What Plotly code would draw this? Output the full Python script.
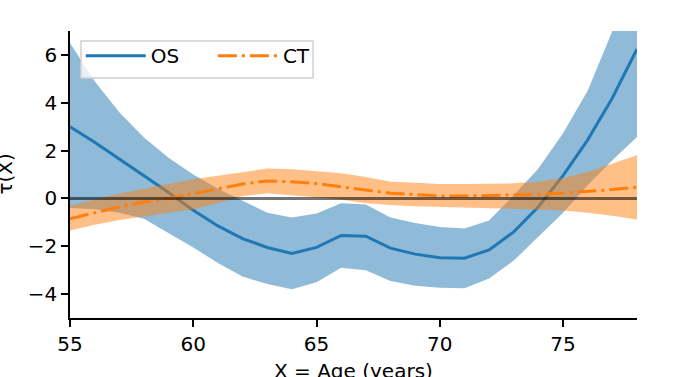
import plotly.graph_objects as go

# ages (x) and estimated treatment effect curves with their bands
age = list(range(55, 79))

os_mean = [3.0, 2.35, 1.65, 0.95, 0.25, -0.5, -1.15, -1.68, -2.05, -2.3, -2.05, -1.55,
           -1.58, -2.08, -2.33, -2.48, -2.5, -2.15, -1.4, -0.35, 0.95, 2.45, 4.2, 6.25]
os_upper = [6.5, 4.9, 3.6, 2.55, 1.7, 1.0, 0.4, -0.1, -0.6, -0.8, -0.63, -0.2,
            -0.25, -0.8, -1.03, -1.2, -1.26, -0.92, 0.13, 1.25, 2.72, 4.5, 7.0, 10.0]
os_lower = [-0.4, -0.45, -0.6, -0.85, -1.45, -2.05, -2.7, -3.27, -3.58, -3.8, -3.5, -2.9,
            -3.0, -3.45, -3.65, -3.73, -3.76, -3.35, -2.6, -1.6, -0.6, 0.55, 1.6, 2.57]

ct_mean = [-0.85, -0.6, -0.35, -0.15, 0.0, 0.2, 0.4, 0.6, 0.73, 0.7, 0.62, 0.5,
           0.35, 0.22, 0.15, 0.1, 0.1, 0.12, 0.14, 0.17, 0.22, 0.29, 0.37, 0.47]
ct_upper = [-0.3, -0.05, 0.2, 0.4, 0.6, 0.8, 0.95, 1.1, 1.25, 1.22, 1.15, 1.05,
            0.9, 0.7, 0.65, 0.6, 0.6, 0.6, 0.63, 0.7, 0.85, 1.1, 1.45, 1.8]
ct_lower = [-1.34, -1.1, -0.9, -0.75, -0.6, -0.45, -0.2, 0.1, 0.22, 0.15, 0.05, -0.05,
            -0.2, -0.28, -0.33, -0.36, -0.4, -0.42, -0.44, -0.46, -0.5, -0.6, -0.72, -0.88]

BLUE = "#1f77b4"
ORANGE = "#ff7f0e"
FONT = "DejaVu Sans"
FS = 20

fig = go.Figure()

# ── OS band + line ───────────────────────────────────────────────────────────
fig.add_trace(go.Scatter(x=age + age[::-1], y=os_upper + os_lower[::-1],
                         fill="toself", fillcolor="rgba(31,119,180,0.5)",
                         line=dict(width=0), showlegend=False, hoverinfo="skip"))
fig.add_trace(go.Scatter(x=age, y=os_mean, mode="lines", name="OS", legend="legend",
                         line=dict(color=BLUE, width=3)))

# ── CT band + line ───────────────────────────────────────────────────────────
fig.add_trace(go.Scatter(x=age + age[::-1], y=ct_upper + ct_lower[::-1],
                         fill="toself", fillcolor="rgba(255,127,14,0.5)",
                         line=dict(width=0), showlegend=False, hoverinfo="skip"))
fig.add_trace(go.Scatter(x=age, y=ct_mean, mode="lines", name="CT", legend="legend2",
                         line=dict(color=ORANGE, width=3, dash="19px,5px,3px,5px")))

# ── zero reference ───────────────────────────────────────────────────────────
fig.add_hline(y=0, line=dict(color="rgba(0,0,0,0.55)", width=3))

# legend frame (matplotlib style box), two legends placed inside it
fig.add_shape(type="rect", xref="paper", yref="paper",
              x0=0.0194, x1=0.4286, y0=0.836, y1=0.965,
              line=dict(color="#d0d0d0", width=1.5),
              fillcolor="rgba(255,255,255,0.8)", layer="above")

leg_common = dict(
    orientation="h", yanchor="middle", xanchor="left",
    bgcolor="rgba(0,0,0,0)", borderwidth=0,
    font=dict(family=FONT, size=FS, color="black"),
    itemwidth=60,
)

axis_common = dict(
    showline=True, linecolor="black", linewidth=1.5,
    ticks="outside", ticklen=7, tickcolor="black", tickwidth=1.5,
    showgrid=False, zeroline=False, automargin=False,
    tickfont=dict(family=FONT, size=FS, color="black"),
)

fig.update_layout(
    width=676, height=377,
    paper_bgcolor="white", plot_bgcolor="white",
    margin=dict(l=70, r=39, t=31, b=59),
    font=dict(family=FONT, color="black"),
    showlegend=True,
    legend=dict(x=0.019, y=0.914, **leg_common),
    legend2=dict(x=0.252, y=0.914, **leg_common),
    xaxis=dict(range=[55, 78], tickvals=[55, 60, 65, 70, 75], **axis_common),
    yaxis=dict(range=[-5, 7], tickvals=[-4, -2, 0, 2, 4, 6], **axis_common),
    annotations=[
        dict(text="X = Age (years)", xref="paper", yref="paper", x=0.5, y=-0.185,
             xanchor="center", yanchor="middle", showarrow=False,
             font=dict(family=FONT, size=FS, color="black")),
        dict(text="τ(X)", xref="paper", yref="paper", x=(4 - 70) / 567, y=0.5,
             xanchor="center", yanchor="middle", textangle=-90, showarrow=False,
             font=dict(family=FONT, size=FS, color="black")),
    ],
)

# page body margin off so the figure sits at the window's top-left corner
fig.write_html("out.html", config={"displayModeBar": False},
               post_script="document.body.style.margin='0';")
